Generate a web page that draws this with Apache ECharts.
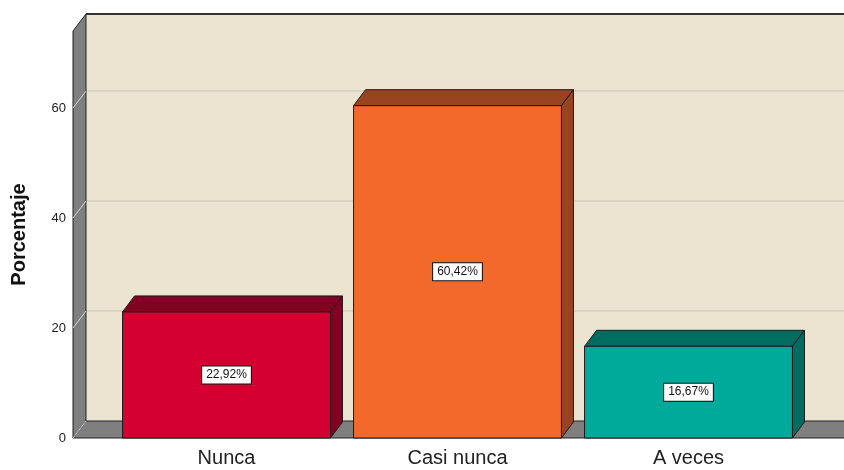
<!DOCTYPE html>
<html>
<head>
<meta charset="utf-8">
<script src="https://cdn.jsdelivr.net/npm/echarts@6/dist/echarts.min.js"></script>
<style>
html, body { margin: 0; padding: 0; background: #fff; }
#chart { width: 844px; height: 470px; }
</style>
</head>
<body>
<div id="chart"></div>
<script>
var categories = ['Nunca', 'Casi nunca', 'A veces'];
var porcentajes = [22.92, 60.42, 16.67];
var yTicks = [0, 20, 40, 60];
var frontColors = ['#D50032', '#F2692B', '#00AA9B'];
var darkColors = ['#840023', '#9A4321', '#006C62'];

var DX = 13, DY = -17;   // depth of the walls
var BX = 12, BY = -16;   // depth of the bars
var WALL_GAP = 38;       // wall starts left of first category band
var FONT = 'Arial, "Liberation Sans", sans-serif';

function fmt(v) {
    return v.toFixed(2).replace('.', ',') + '%';
}

function renderWalls(params, api) {
    var cs = params.coordSys;
    var left = cs.x - WALL_GAP;
    var right = api.getWidth();
    var y0 = api.coord([0, 0])[1];
    var yTop = cs.y;
    var kids = [];

    // back wall
    kids.push({
        type: 'rect',
        shape: { x: left + DX, y: yTop + DY, width: right - left - DX, height: y0 - yTop },
        style: { fill: '#EAE4D1' }
    });
    // grid lines on back wall
    yTicks.forEach(function (t) {
        if (t === 0) return;
        var y = api.coord([0, t])[1];
        kids.push({
            type: 'line',
            shape: { x1: left + DX, y1: y + DY, x2: right, y2: y + DY },
            style: { stroke: '#C9C3B1', lineWidth: 1 }
        });
    });
    // floor
    kids.push({
        type: 'polygon',
        shape: { points: [[left, y0], [right + 2, y0], [right + 2, y0 + DY], [left + DX, y0 + DY]] },
        style: { fill: '#7F7F7F', stroke: '#222', lineWidth: 1 }
    });
    // left wall
    kids.push({
        type: 'polygon',
        shape: { points: [[left, y0], [left, yTop], [left + DX, yTop + DY], [left + DX, y0 + DY]] },
        style: { fill: '#7F7F7F', stroke: '#222', lineWidth: 1 }
    });
    // grid lines across the left wall
    yTicks.forEach(function (t) {
        var y = api.coord([0, t])[1];
        kids.push({
            type: 'line',
            shape: { x1: left, y1: y, x2: left + DX, y2: y + DY },
            style: { stroke: '#D6D6D6', lineWidth: 1 }
        });
    });
    // top edge of back wall
    kids.push({
        type: 'line',
        shape: { x1: left + DX, y1: yTop + DY, x2: right, y2: yTop + DY },
        style: { stroke: '#333', lineWidth: 2 }
    });
    return { type: 'group', children: kids };
}

function renderBar(params, api) {
    var i = api.value(0);
    var v = api.value(1);
    var top = api.coord([i, v]);
    var base = api.coord([i, 0]);
    var w = api.size([1, 0])[0] * 0.9;
    var x0 = top[0] - w / 2, x1 = top[0] + w / 2;
    var yt = top[1], yb = base[1];
    var line = { stroke: '#1a1a1a', lineWidth: 1 };
    return {
        type: 'group',
        children: [
            {
                type: 'polygon',
                shape: { points: [[x0, yt], [x0 + BX, yt + BY], [x1 + BX, yt + BY], [x1, yt]] },
                style: Object.assign({ fill: darkColors[i] }, line)
            },
            {
                type: 'polygon',
                shape: { points: [[x1, yt], [x1 + BX, yt + BY], [x1 + BX, yb + BY], [x1, yb]] },
                style: Object.assign({ fill: darkColors[i] }, line)
            },
            {
                type: 'rect',
                shape: { x: x0, y: yt, width: w, height: yb - yt },
                style: Object.assign({ fill: frontColors[i] }, line)
            },
            {
                type: 'text',
                x: top[0],
                y: (yt + yb) / 2,
                style: {
                    text: fmt(v),
                    font: '12px ' + FONT,
                    fill: '#111',
                    align: 'center',
                    verticalAlign: 'middle',
                    backgroundColor: '#fff',
                    borderColor: '#111',
                    borderWidth: 1,
                    padding: [3, 4, 2, 4]
                }
            }
        ]
    };
}

var myChart = echarts.init(document.getElementById('chart'));
option = {
    animation: false,
    grid: { left: 111, right: 40, top: 31, bottom: 32 },
    xAxis: {
        type: 'category',
        data: categories,
        axisLine: { show: false },
        axisTick: { show: false },
        axisLabel: { color: '#222', fontSize: 20, fontFamily: FONT, margin: 10 }
    },
    yAxis: {
        type: 'value',
        min: 0,
        max: 74,
        interval: 20,
        offset: WALL_GAP,
        name: 'Porcentaje',
        nameLocation: 'middle',
        nameGap: 44,
        nameTextStyle: { color: '#111', fontSize: 20, fontWeight: 'bold', fontFamily: FONT },
        axisLine: { show: false },
        axisTick: { show: false },
        splitLine: { show: false },
        axisLabel: { color: '#222', fontSize: 13, fontFamily: FONT, margin: 7, padding: [3, 0, 0, 0], showMaxLabel: false }
    },
    series: [
        {
            type: 'custom',
            renderItem: renderWalls,
            data: [[0, 0]],
            z: 1,
            silent: true
        },
        {
            type: 'custom',
            renderItem: renderBar,
            encode: { x: 0, y: 1 },
            data: porcentajes.map(function (v, i) { return [i, v]; }),
            z: 2
        }
    ]
};
myChart.setOption(option);
</script>
</body>
</html>
